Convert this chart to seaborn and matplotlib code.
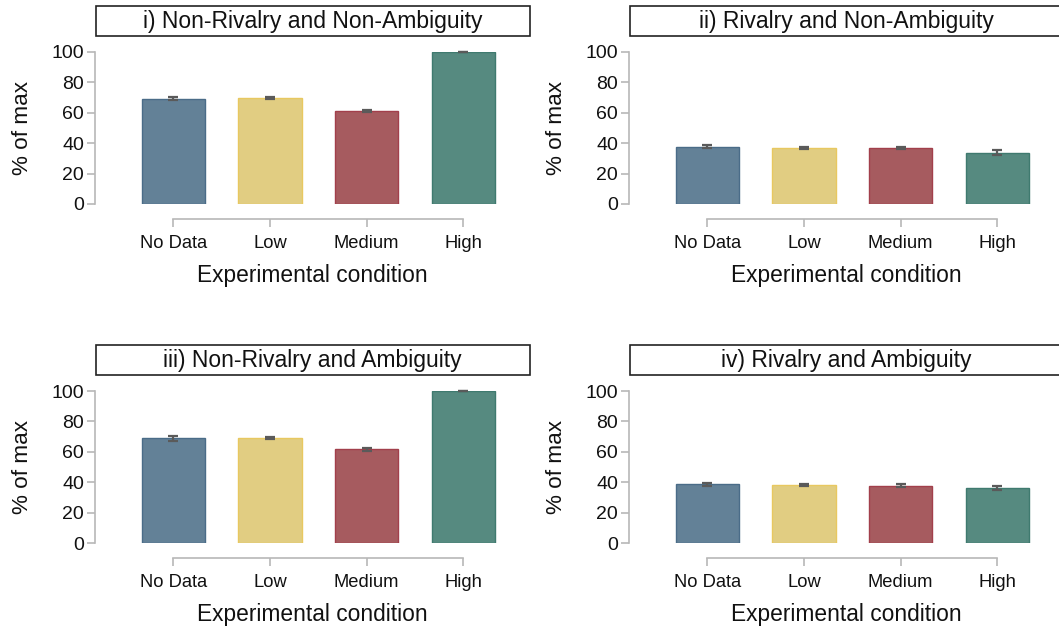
import numpy as np
import pandas as pd
import matplotlib
matplotlib.use("Agg")
import matplotlib.pyplot as plt
from matplotlib.patches import Rectangle
import seaborn as sns

categories = ["No Data", "Low", "Medium", "High"]
titles = ["i) Non-Rivalry and Non-Ambiguity", "ii) Rivalry and Non-Ambiguity",
          "iii) Non-Rivalry and Ambiguity", "iv) Rivalry and Ambiguity"]
vals_i = [69.3, 70.0, 61.2, 100.0]
errs_i = [0.8, 0.6, 0.9, 0.3]
vals_ii = [37.7, 36.9, 36.8, 33.8]
errs_ii = [0.8, 0.6, 0.7, 1.8]
vals_iii = [68.9, 69.3, 61.8, 100.0]
errs_iii = [1.8, 0.6, 1.0, 0.3]
vals_iv = [38.6, 38.2, 37.7, 36.0]
errs_iv = [1.0, 0.6, 0.8, 1.3]
fill_colors = ["#638197", "#E1CD82", "#A65B5F", "#568A80"]
edge_colors = ["#4A6C88", "#E8C860", "#A23F4B", "#3F7A6F"]

sns.set_theme(style="white")
plt.rcParams["font.family"] = ["Liberation Sans", "DejaVu Sans"]

W, H = 1059, 626
fig = plt.figure(figsize=(W / 100, H / 100), dpi=100)

# axes positions in pixels: (left, top, right, bottom)
boxes = [(95, 52, 530, 204), (629, 52, 1064, 204),
         (95, 391, 530, 543), (629, 391, 1064, 543)]
data = [(vals_i, errs_i), (vals_ii, errs_ii), (vals_iii, errs_iii), (vals_iv, errs_iv)]

for (l, t, r, b), (vals, errs), title in zip(boxes, data, titles):
    ax = fig.add_axes([l / W, (H - b) / H, (r - l) / W, (b - t) / H])
    df = pd.DataFrame({"cond": categories, "val": vals})
    sns.barplot(data=df, x="cond", y="val", hue="cond", palette=fill_colors,
                order=categories, hue_order=categories, errorbar=None,
                width=0.655, legend=False, ax=ax, saturation=1)
    for p, ec in zip(ax.patches, edge_colors):
        p.set_edgecolor(ec)
        p.set_linewidth(1.0)
    ax.errorbar(x=np.arange(len(categories)), y=vals, yerr=errs, fmt="none",
                ecolor="#5a5a5a", elinewidth=1.6, capsize=3.3, capthick=1.6,
                clip_on=False, zorder=5)
    ax.set_xlim(-0.81, 3.69)
    ax.set_ylim(0, 100)
    ax.set_yticks([0, 20, 40, 60, 80, 100])
    ax.set_xlabel("Experimental condition", fontsize=16.4, labelpad=9, color="#111111")
    ax.set_ylabel("% of max", fontsize=16.2, labelpad=13, color="#111111")
    for s in ["top", "right"]:
        ax.spines[s].set_visible(False)
    ax.spines["bottom"].set_position(("outward", 11))
    ax.spines["bottom"].set_bounds(0, 3)
    ax.spines["left"].set_bounds(0, 100)
    for s in ["bottom", "left"]:
        ax.spines[s].set_color("#b8b8b8")
        ax.spines[s].set_linewidth(1.2)
    ax.tick_params(axis="both", which="major", length=6, width=1.2,
                   color="#b8b8b8", labelcolor="#111111",
                   direction="out", left=True, bottom=True)
    ax.tick_params(axis="y", pad=2, labelsize=14)
    ax.tick_params(axis="x", pad=5, labelsize=13.2)
    # title box
    ax.add_patch(Rectangle((0.003, 1.105), 0.997, 0.197, transform=ax.transAxes,
                           facecolor="white", edgecolor="#222222", linewidth=1.2,
                           clip_on=False))
    ax.text(0.5, 1.105 + 0.197 / 2, title, transform=ax.transAxes, ha="center",
            va="center", fontsize=16.5, color="#111111")

fig.savefig("out.png", dpi=100, facecolor="white")
